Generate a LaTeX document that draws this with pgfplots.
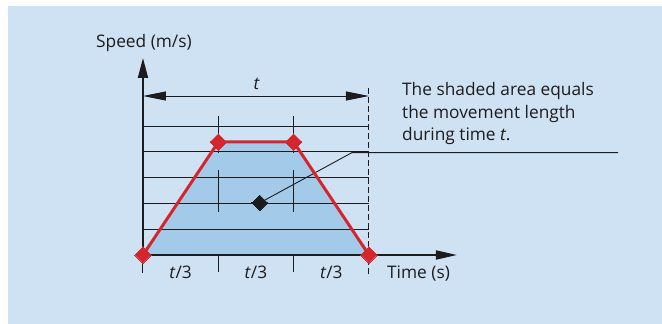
\documentclass[border=0pt]{standalone}
\usepackage{pgfplots}
\pgfplotsset{compat=1.18}
\usepackage{fontspec}
\setmainfont{Open Sans}
\usetikzlibrary{arrows.meta}
\definecolor{bg}{RGB}{207,226,243}
\definecolor{shade}{RGB}{163,203,233}
\definecolor{tred}{RGB}{213,38,45}
\definecolor{ink}{RGB}{30,27,28}
\begin{document}
\begin{tikzpicture}
\begin{axis}[scale only axis, width=662pt, height=324pt,
  xmin=-1.898, xmax=6.890, ymin=-2.674, ymax=9.884,
  hide axis, clip=false]
% background
\fill[white] (rel axis cs:0,0) rectangle (rel axis cs:1,1);
\fill[bg] (axis cs:-1.792,-2.674) rectangle (rel axis cs:1,0.9815);
% shaded area
\addplot[fill=shade, draw=none] coordinates {(0,0) (1,4.38) (2,4.38) (3,0)} -- cycle;
% grid lines
\foreach \yy in {1,2,3,4,5}{
  \edef\tmp{\noexpand\draw[ink, line width=1pt] (axis cs:0,\yy) -- (axis cs:3,\yy);}\tmp
}
% vertical division lines
\draw[ink, line width=1pt] (axis cs:1,5.39) -- (axis cs:1,3.95);
\draw[ink, line width=1pt] (axis cs:1,3.29) -- (axis cs:1,1.67);
\draw[ink, line width=1pt] (axis cs:1,0) -- (axis cs:1,-0.66);
\draw[ink, line width=1pt] (axis cs:2,5.39) -- (axis cs:2,3.95);
\draw[ink, line width=1pt] (axis cs:2,3.29) -- (axis cs:2,1.67);
\draw[ink, line width=1pt] (axis cs:2,0) -- (axis cs:2,-0.66);
\draw[ink, line width=1pt] (axis cs:0,0) -- (axis cs:0,-0.70);
\draw[ink, line width=1pt, dash pattern=on 6pt off 3pt] (axis cs:3,6.47) -- (axis cs:3,-0.78);
% pointer
\draw[ink, line width=0.9pt] (axis cs:1.55,2.02) -- (axis cs:2.775,3.97) -- (axis cs:6.306,3.97);
% axes
\draw[ink, line width=1.8pt, -{Triangle[length=20pt,width=10pt]}] (axis cs:0,0) -- (axis cs:0,7.636);
\draw[ink, line width=1.8pt, -{Triangle[length=21pt,width=9pt]}] (axis cs:0,0) -- (axis cs:4.168,0);
% dimension arrow
\draw[ink, line width=0.9pt, {Triangle[length=23pt,width=9pt]}-{Triangle[length=23pt,width=9pt]}] (axis cs:0,6.163) -- (axis cs:3,6.163);
% speed profile
\addplot[tred, line width=3pt, mark=square*, mark size=5.8pt,
  mark options={rotate=45, solid, fill=tred, draw=tred, line width=0pt}]
  coordinates {(0,0) (1,4.38) (2,4.38) (3,0)};
% centroid marker
\addplot[only marks, mark=square*, mark size=5.5pt,
  mark options={rotate=45, fill=ink, draw=ink, line width=0pt}]
  coordinates {(1.55,2.02)};
% text
\node[anchor=base west, text=ink, font=\fontsize{17.3}{21}\selectfont, inner sep=0pt] at (axis cs:-0.624,8.062) {Speed (m/s)};
\node[anchor=base west, text=ink, font=\fontsize{17.3}{21}\selectfont, inner sep=0pt] at (axis cs:3.239,-0.930) {Time (s)};
\node[anchor=base, text=ink, font=\fontsize{17.3}{21}\selectfont, inner sep=0pt] at (axis cs:0.5,-0.930) {\textit{t}/3};
\node[anchor=base, text=ink, font=\fontsize{17.3}{21}\selectfont, inner sep=0pt] at (axis cs:1.5,-0.930) {\textit{t}/3};
\node[anchor=base, text=ink, font=\fontsize{17.3}{21}\selectfont, inner sep=0pt] at (axis cs:2.5,-0.930) {\textit{t}/3};
\node[anchor=base, text=ink, font=\fontsize{17.3}{21}\selectfont, inner sep=0pt] at (axis cs:1.51,6.434) {\textit{t}};
\node[anchor=base west, text=ink, font=\fontsize{17.3}{21}\selectfont, inner sep=0pt] at (axis cs:3.438,6.163) {The shaded area equals};
\node[anchor=base west, text=ink, font=\fontsize{17.3}{21}\selectfont, inner sep=0pt] at (axis cs:3.438,5.310) {the movement length};
\node[anchor=base west, text=ink, font=\fontsize{17.3}{21}\selectfont, inner sep=0pt] at (axis cs:3.438,4.438) {during time \textit{t}.};
\end{axis}
\end{tikzpicture}
\end{document}
